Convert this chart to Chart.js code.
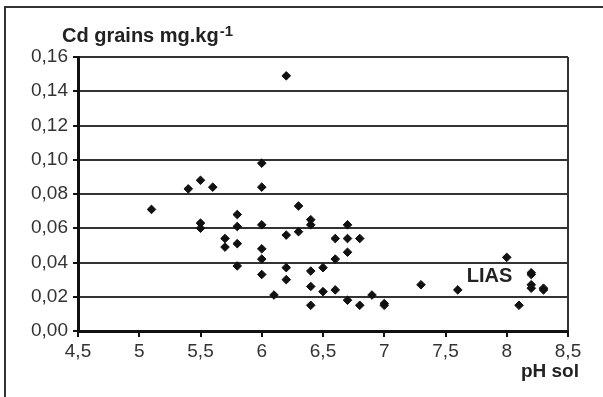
<!DOCTYPE html>
<html>
<head>
<meta charset="utf-8">
<script src="https://cdn.jsdelivr.net/npm/chart.js@4"></script>
<style>
  html, body { margin: 0; padding: 0; background: #fff; overflow: hidden; }
  #wrap { position: relative; width: 603px; height: 397px; }
  #frame { position: absolute; left: 4px; top: 6px; width: 700px; height: 500px; border-left: 2px solid #333; border-top: 2px solid #333; }
  #c { position: absolute; left: 0; top: 0; }
</style>
</head>
<body>
<div id="wrap"><div id="frame"></div><canvas id="c" width="603" height="397"></canvas></div>
<script>
/* Cd in grain vs soil pH — scatter */
const phSol = [5.1, 5.4, 5.5, 5.5, 5.5, 5.6, 5.7, 5.7, 5.8, 5.8, 5.8, 5.8,
  6.0, 6.0, 6.0, 6.0, 6.0, 6.0, 6.1, 6.2, 6.2, 6.2, 6.2, 6.3, 6.3,
  6.4, 6.4, 6.4, 6.4, 6.4, 6.5, 6.5, 6.6, 6.6, 6.6, 6.7, 6.7, 6.7, 6.7,
  6.8, 6.8, 6.9, 7.0, 7.0, 7.3, 7.6, 8.0, 8.1, 8.2, 8.2, 8.2, 8.2, 8.3, 8.3];
const cdGrains = [0.071, 0.083, 0.088, 0.063, 0.060, 0.084, 0.054, 0.049, 0.068, 0.061, 0.051, 0.038,
  0.098, 0.084, 0.062, 0.048, 0.042, 0.033, 0.021, 0.149, 0.056, 0.037, 0.030, 0.073, 0.058,
  0.065, 0.062, 0.035, 0.026, 0.015, 0.037, 0.023, 0.054, 0.042, 0.024, 0.062, 0.054, 0.046, 0.018,
  0.054, 0.015, 0.021, 0.016, 0.015, 0.027, 0.024, 0.043, 0.015, 0.034, 0.033, 0.027, 0.025, 0.025, 0.024];
const xTicks = [4.5, 5, 5.5, 6, 6.5, 7, 7.5, 8, 8.5];
const yTicks = [0, 0.02, 0.04, 0.06, 0.08, 0.10, 0.12, 0.14, 0.16];
const liasLabel = { text: "LIAS", x: 7.86, y: 0.0318 };

const FONT = "'Liberation Sans', Arial, sans-serif";
const comma = (v, d) => (d == null ? String(v) : v.toFixed(d)).replace(".", ",");

const labels = {
  id: "labels",
  afterDraw(chart) {
    const ctx = chart.ctx, { x, y } = chart.scales;
    ctx.save();
    ctx.fillStyle = "#222";
    ctx.textBaseline = "alphabetic";
    // y title with superscript
    ctx.font = "bold 20px " + FONT;
    ctx.textAlign = "left";
    const t = "Cd grains mg.kg";
    ctx.fillText(t, 62, 42);
    const w = ctx.measureText(t).width;
    ctx.font = "bold 15px " + FONT;
    ctx.fillText("-1", 62 + w + 1, 36);
    // x title
    ctx.font = "bold 19px " + FONT;
    ctx.textAlign = "right";
    ctx.fillText("pH sol", 579, 377);
    // annotation
    ctx.font = "bold 20px " + FONT;
    ctx.textAlign = "center";
    ctx.textBaseline = "middle";
    ctx.fillText(liasLabel.text, x.getPixelForValue(liasLabel.x), y.getPixelForValue(liasLabel.y));
    ctx.restore();
  }
};

new Chart(document.getElementById("c"), {
  type: "scatter",
  data: {
    datasets: [{
      data: phSol.map((p, i) => ({ x: p, y: cdGrains[i] })),
      pointStyle: "rectRot", pointRadius: 4.3, pointHoverRadius: 4.3,
      backgroundColor: "#111", borderColor: "#111", borderWidth: 1
    }]
  },
  options: {
    responsive: false, animation: false, devicePixelRatio: 1,
    layout: { padding: { top: 57, right: 35, bottom: 0, left: 0 } },
    plugins: { legend: { display: false }, tooltip: { enabled: false } },
    scales: {
      x: {
        type: "linear", min: 4.5, max: 8.5,
        afterBuildTicks: (s) => { s.ticks = xTicks.map((v) => ({ value: v })); },
        afterFit: (s) => { s.height = 66; },
        ticks: { color: "#333", padding: 3, font: { family: FONT, size: 19 }, callback: (v) => comma(v), maxRotation: 0, autoSkip: false },
        grid: { color: (c) => (c.tick && c.tick.value === 8.5 ? "#333" : "rgba(0,0,0,0)"), lineWidth: 2, drawTicks: true, tickLength: 6, tickColor: "#111", tickWidth: 2 },
        border: { display: true, color: "#111", width: 3 }
      },
      y: {
        type: "linear", min: 0, max: 0.16,
        afterBuildTicks: (s) => { s.ticks = yTicks.map((v) => ({ value: v })); },
        afterFit: (s) => { s.width = 78; },
        ticks: { color: "#333", padding: 5, font: { family: FONT, size: 19 }, callback: (v) => comma(v, 2), autoSkip: false },
        grid: { color: "#333", lineWidth: 2, drawTicks: true, tickLength: 5, tickColor: "#111", tickWidth: 2 },
        border: { display: true, color: "#111", width: 3 }
      }
    }
  },
  plugins: [labels]
});
</script>
</body>
</html>
